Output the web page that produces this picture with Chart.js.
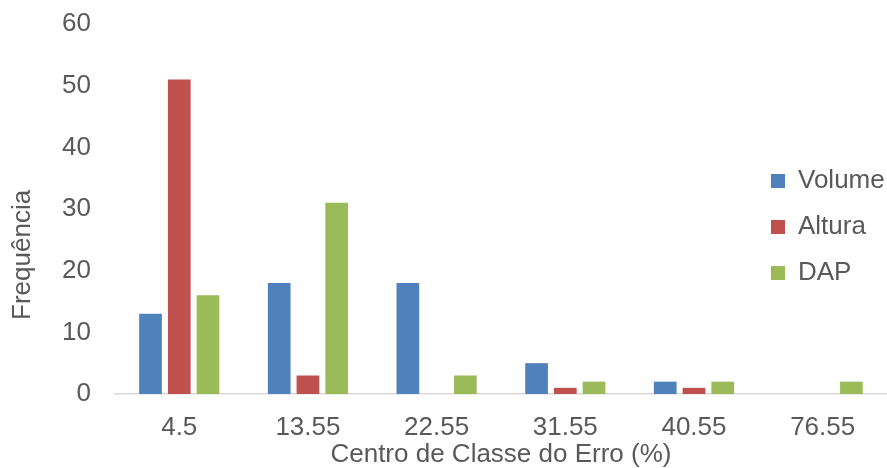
<!DOCTYPE html>
<html>
<head>
<meta charset="utf-8">
<script src="https://cdn.jsdelivr.net/npm/chart.js@4/dist/chart.umd.min.js"></script>
<style>
  html, body { margin: 0; padding: 0; background: #ffffff; }
  #wrap { width: 887px; height: 468px; position: relative; }
</style>
</head>
<body>
<div id="wrap"><canvas id="c"></canvas></div>
<script>
// Class centres of the error (%) and frequency per variable
const categories = ['4.5', '13.55', '22.55', '31.55', '40.55', '76.55'];
const volume = [13, 18, 18, 5, 2, 0];
const altura = [51, 3, 0, 1, 1, 0];
const dap = [16, 31, 3, 2, 2, 2];
const yTicks = [0, 10, 20, 30, 40, 50, 60];

const TEXT = '#595959';
const FONT = 'Liberation Sans, Arial, sans-serif';

// Vertical axis title, drawn a little below the middle of the plot area
const yTitle = {
  id: 'yTitle',
  afterDraw(chart, args, opts) {
    const { ctx, chartArea } = chart;
    ctx.save();
    ctx.translate(opts.x, chartArea.top + chartArea.height * opts.pos);
    ctx.rotate(-Math.PI / 2);
    ctx.font = opts.size + 'px ' + FONT;
    ctx.fillStyle = TEXT;
    ctx.textAlign = 'center';
    ctx.textBaseline = 'middle';
    ctx.fillText(opts.text, 0, 0);
    ctx.restore();
  }
};

// Places the legend inside the plot area, on its right side
const legendPlacer = {
  id: 'legendPlacer',
  beforeDraw(chart, args, opts) {
    const lg = chart.legend;
    if (!lg) return;
    const pad = lg.options.labels.padding;
    lg.left = opts.x - pad;
    lg.right = lg.left + lg.width;
    lg.top = opts.y - pad;
    lg.bottom = lg.top + lg.height;
  }
};

new Chart(document.getElementById('c'), {
  type: 'bar',
  data: {
    labels: categories,
    datasets: [
      { label: 'Volume', data: volume, backgroundColor: '#4F81BD' },
      { label: 'Altura', data: altura, backgroundColor: '#C0504D' },
      { label: 'DAP', data: dap, backgroundColor: '#9BBB59' }
    ]
  },
  options: {
    responsive: true,
    maintainAspectRatio: false,
    animation: false,
    datasets: { bar: { categoryPercentage: 0.67, barPercentage: 0.79, borderWidth: 0 } },
    layout: { padding: { left: 62, right: 0, top: 24, bottom: 0 } },
    scales: {
      x: {
        grid: { display: false, drawTicks: true, tickLength: 21 },
        border: { display: true, color: '#D9D9D9', width: 1.5 },
        ticks: { color: TEXT, font: { family: FONT, size: 26, lineHeight: 1 }, padding: 0 },
        title: {
          display: true,
          text: 'Centro de Classe do Erro (%)',
          color: TEXT,
          font: { family: FONT, size: 26, lineHeight: 1 },
          padding: { top: 1, bottom: 0 }
        }
      },
      y: {
        min: 0,
        max: 60,
        afterBuildTicks(scale) { scale.ticks = yTicks.map(v => ({ value: v })); },
        grid: { display: false, drawTicks: true, tickLength: 24 },
        border: { display: false },
        ticks: { color: TEXT, font: { family: FONT, size: 26, lineHeight: 1 }, padding: 0 }
      }
    },
    plugins: {
      legend: {
        position: 'chartArea',
        align: 'start',
        labels: {
          color: TEXT,
          font: { family: FONT, size: 26, lineHeight: 1 },
          boxWidth: 14,
          boxHeight: 14,
          padding: 20
        }
      },
      legendPlacer: { x: 771, y: 168 },
      yTitle: { text: 'Frequência', x: 23, pos: 0.624, size: 26 },
      tooltip: { enabled: false }
    }
  },
  plugins: [yTitle, legendPlacer]
});
</script>
</body>
</html>
